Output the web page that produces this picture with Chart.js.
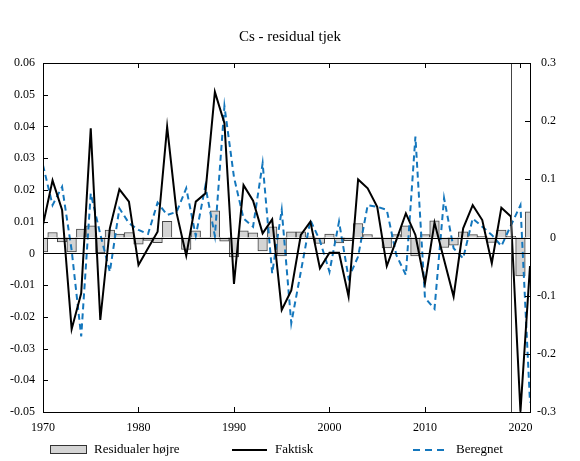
<!DOCTYPE html>
<html>
<head>
<meta charset="utf-8">
<script src="https://cdn.jsdelivr.net/npm/chart.js@4.4.1/dist/chart.umd.min.js"></script>
<style>
  html, body { margin: 0; padding: 0; background: #fff; }
  #wrap { width: 580px; height: 461px; }
</style>
</head>
<body>
<div id="wrap"><canvas id="c" width="580" height="461"></canvas></div>
<script>
const years = [1970,1971,1972,1973,1974,1975,1976,1977,1978,1979,
  1980,1981,1982,1983,1984,1985,1986,1987,1988,1989,
  1990,1991,1992,1993,1994,1995,1996,1997,1998,1999,
  2000,2001,2002,2003,2004,2005,2006,2007,2008,2009,
  2010,2011,2012,2013,2014,2015,2016,2017,2018,2019,
  2020,2021];

const faktisk = [0.009,0.023,0.0137,-0.0239,-0.0126,0.0394,-0.021,0.0079,0.0202,0.0163,
  -0.0037,0.0016,0.0068,0.0399,0.0126,-0.0007,0.0163,0.0189,0.0509,0.041,
  -0.0096,0.0215,0.0166,0.0063,0.0107,-0.0178,-0.0117,0.0058,0.01,-0.0047,
  0.0002,0.0002,-0.0136,0.0233,0.0205,0.0147,-0.004,0.0042,0.0126,0.0058,
  -0.0095,0.0097,-0.002,-0.0136,0.0079,0.0152,0.0105,-0.0031,0.0144,0.0116,
  -0.0499,-0.004];

const beregnet = [0.0278,0.0152,0.021,0.001,-0.0262,0.0189,0.006,-0.0058,0.0142,0.0095,
  0.0074,0.0061,0.016,0.0121,0.0131,0.0205,0.0055,0.0212,0.0055,0.0464,
  0.024,0.011,0.0084,0.0284,-0.0063,0.0137,-0.022,-0.0058,0.0105,0.004,
  -0.0058,0.01,-0.0078,-0.001,0.0152,0.0147,0.0137,-0.0005,-0.0068,0.0368,
  -0.014,-0.0175,0.0174,0.0016,-0.0016,0.011,0.0084,0.0058,0.0023,0.0088,
  0.0152,-0.047];

const residualer = [-0.025,0.0086,-0.0076,-0.025,0.0143,0.02,-0.0265,0.0126,0.0057,0.0086,
  -0.0115,-0.005,-0.009,0.028,-0.002,-0.0206,0.0114,-0.002,0.0458,-0.0063,
  -0.0332,0.0114,0.008,-0.0229,0.0183,-0.0315,0.0097,0.0097,0.001,-0.0103,
  0.0057,-0.0092,-0.0055,0.024,0.0052,0.0005,-0.0177,0.005,0.02,-0.0315,
  0.005,0.0285,-0.0172,-0.0132,0.0097,0.005,0.002,-0.0086,0.0126,0.002,
  -0.066,0.044];

const xTicks = [1970,1980,1990,2000,2010,2020];
const leftTicks = [-0.05,-0.04,-0.03,-0.02,-0.01,0,0.01,0.02,0.03,0.04,0.05,0.06];
const rightTicks = [-0.3,-0.2,-0.1,0,0.1,0.2,0.3];
const markerYear = 2019;

const titleText = 'Cs - residual tjek';
const legendLabels = ['Residualer højre', 'Faktisk', 'Beregnet'];

const FONT = 'Liberation Serif';
const BLUE = '#1477bd';

const toXY = arr => years.map((x, i) => ({ x: x, y: arr[i] }));

const fmt = (v, d) => {
  const r = Math.round(v * d) / d;
  return r === 0 ? '0' : String(r);
};

const titlePlugin = {
  id: 'titlePlugin',
  afterDraw(chart) {
    const { ctx } = chart;
    ctx.save();
    ctx.font = '15px "' + FONT + '"';
    ctx.fillStyle = '#000';
    ctx.textAlign = 'center';
    ctx.textBaseline = 'middle';
    ctx.fillText(titleText, chart.width / 2, 37);
    ctx.restore();
  }
};

const framePlugin = {
  id: 'framePlugin',
  afterDatasetsDraw(chart) {
    const { ctx, chartArea: a, scales } = chart;
    ctx.save();
    ctx.strokeStyle = '#000';
    ctx.lineWidth = 1;
    const y0 = Math.round(scales.y.getPixelForValue(0)) + 0.5;
    const y20 = Math.round(scales.y2.getPixelForValue(0)) + 0.5;
    ctx.beginPath();
    ctx.moveTo(a.left, y0); ctx.lineTo(a.right, y0);
    ctx.moveTo(a.left, y20); ctx.lineTo(a.right, y20);
    ctx.stroke();
    const xm = Math.round(scales.x.getPixelForValue(markerYear)) + 0.5;
    ctx.strokeStyle = '#444';
    ctx.beginPath();
    ctx.moveTo(xm, a.top); ctx.lineTo(xm, a.bottom);
    ctx.stroke();
    ctx.strokeStyle = '#000';
    ctx.strokeRect(Math.round(a.left) + 0.5, Math.round(a.top) + 0.5,
      Math.round(a.right - a.left), Math.round(a.bottom - a.top));
    const tl = 5;
    ctx.beginPath();
    xTicks.forEach(v => {
      const px = Math.round(scales.x.getPixelForValue(v)) + 0.5;
      ctx.moveTo(px, a.bottom); ctx.lineTo(px, a.bottom - tl);
      ctx.moveTo(px, a.top); ctx.lineTo(px, a.top + tl);
    });
    leftTicks.forEach(v => {
      const py = Math.round(scales.y.getPixelForValue(v)) + 0.5;
      ctx.moveTo(a.left, py); ctx.lineTo(a.left + tl, py);
    });
    rightTicks.forEach(v => {
      const py = Math.round(scales.y2.getPixelForValue(v)) + 0.5;
      ctx.moveTo(a.right, py); ctx.lineTo(a.right - tl, py);
    });
    ctx.stroke();
    ctx.restore();
  }
};

const legendPlugin = {
  id: 'legendPlugin',
  afterDraw(chart) {
    const { ctx } = chart;
    const ly = 450;
    ctx.save();
    ctx.font = '13px "' + FONT + '"';
    ctx.textBaseline = 'middle';
    ctx.textAlign = 'left';
    ctx.fillStyle = '#d4d4d4';
    ctx.fillRect(50, ly - 4, 36, 8);
    ctx.strokeStyle = '#333';
    ctx.lineWidth = 1;
    ctx.strokeRect(50.5, ly - 4.5, 36, 8);
    ctx.fillStyle = '#000';
    ctx.fillText(legendLabels[0], 94, ly);
    ctx.strokeStyle = '#000';
    ctx.lineWidth = 2;
    ctx.beginPath();
    ctx.moveTo(232, ly); ctx.lineTo(267, ly);
    ctx.stroke();
    ctx.fillText(legendLabels[1], 275, ly);
    ctx.strokeStyle = BLUE;
    ctx.setLineDash([7, 5]);
    ctx.beginPath();
    ctx.moveTo(413, ly); ctx.lineTo(449, ly);
    ctx.stroke();
    ctx.setLineDash([]);
    ctx.fillText(legendLabels[2], 456, ly);
    ctx.restore();
  }
};

const tickFont = { family: FONT, size: 12 };

new Chart(document.getElementById('c'), {
  type: 'bar',
  data: {
    datasets: [
      {
        type: 'line', label: legendLabels[1], data: toXY(faktisk), yAxisID: 'y', xAxisID: 'x',
        borderColor: '#000', borderWidth: 2, pointRadius: 0, tension: 0, fill: false, order: 1
      },
      {
        type: 'line', label: legendLabels[2], data: toXY(beregnet), yAxisID: 'y', xAxisID: 'x',
        borderColor: BLUE, borderWidth: 2, borderDash: [6, 4], pointRadius: 0, tension: 0, fill: false, order: 2
      },
      {
        type: 'bar', label: legendLabels[0], data: toXY(residualer), yAxisID: 'y2', xAxisID: 'x',
        backgroundColor: '#d4d4d4', borderColor: '#444', borderWidth: 1,
        barPercentage: 1, categoryPercentage: 1, order: 3
      }
    ]
  },
  options: {
    responsive: false,
    animation: false,
    events: [],
    layout: { padding: { left: 0, right: 24, top: 63, bottom: 0 } },
    plugins: {
      legend: { display: false },
      tooltip: { enabled: false },
      title: { display: false }
    },
    scales: {
      x: {
        type: 'linear', position: 'bottom', min: 1970, max: 2021, offset: false,
        afterBuildTicks: s => { s.ticks = xTicks.map(v => ({ value: v })); },
        afterFit: s => { s.height = 49; },
        grid: { display: false, drawTicks: false },
        border: { display: false },
        ticks: { padding: 9, font: tickFont, color: '#000', maxRotation: 0, autoSkip: false, callback: v => String(v) }
      },
      y: {
        type: 'linear', position: 'left', min: -0.05, max: 0.06,
        afterBuildTicks: s => { s.ticks = leftTicks.map(v => ({ value: v })); },
        afterFit: s => { s.width = 43; },
        grid: { display: false, drawTicks: false },
        border: { display: false },
        ticks: { padding: 8, font: tickFont, color: '#000', autoSkip: false, callback: v => fmt(v, 100) }
      },
      y2: {
        type: 'linear', position: 'right', min: -0.3, max: 0.3,
        afterBuildTicks: s => { s.ticks = rightTicks.map(v => ({ value: v })); },
        afterFit: s => { s.width = 26; },
        grid: { display: false, drawTicks: false },
        border: { display: false },
        ticks: { padding: 8, crossAlign: 'far', font: tickFont, color: '#000', autoSkip: false, callback: v => fmt(v, 10) }
      }
    }
  },
  plugins: [framePlugin, legendPlugin, titlePlugin]
});
</script>
</body>
</html>
